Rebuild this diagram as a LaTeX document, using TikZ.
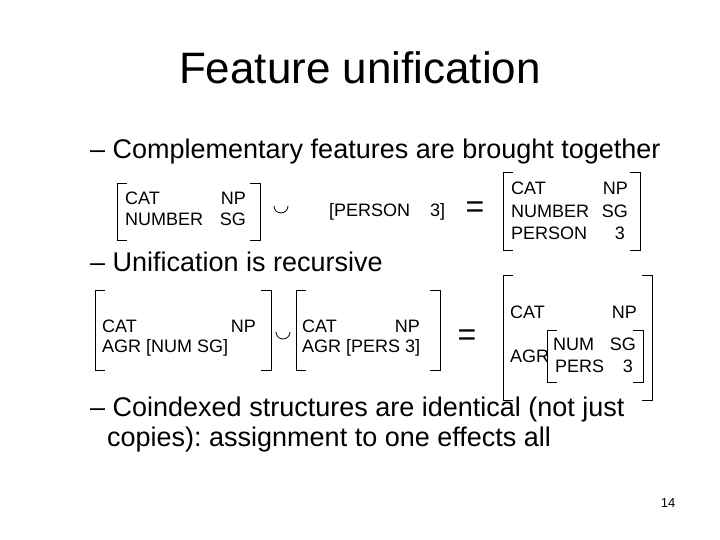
\documentclass[tikz,border=0pt]{standalone}
\usepackage{fontspec}
\setmainfont{Liberation Sans}
\begin{document}
\frenchspacing
\begin{tikzpicture}[x=1pt,y=-1pt,
  sm/.style={font=\fontsize{18}{18}\selectfont,inner sep=0pt,anchor=west},
  big/.style={font=\fontsize{27}{27}\selectfont,inner sep=0pt,anchor=west},
  brk/.style={line width=0.8pt}]
\useasboundingbox (0,0) rectangle (720,540);
\newcommand{\fsb}[4]{% left right top bottom
  \draw[brk] (#1+10,#3)--(#1,#3)--(#1,#4)--(#1+10,#4);
  \draw[brk] (#2-10,#3)--(#2,#3)--(#2,#4)--(#2-10,#4);}
\node[font=\fontsize{44}{44}\selectfont,inner sep=0pt] (title) at (360,68) {Feature unification};
\node[big] (b1) at (90,152) {– Complementary features are brought together};
% row 1
\fsb{117}{260}{183}{240}
\node[sm] (c1) at (125,198) {CAT};
\node[sm,anchor=east] (n1) at (246,198) {NP};
\node[sm] (c2) at (125,219) {NUMBER};
\node[sm,anchor=east] (n2) at (246,219) {SG};
\draw[brk] (274,206) arc (180:0:7);
\node[sm] (p1) at (329,212) {[PERSON};
\node[sm] (p2) at (430,212) {3]};
\node[font=\fontsize{32}{32}\selectfont,inner sep=0pt] (eq1) at (475,210) {=};
\fsb{503}{640}{172}{250}
\node[sm] (r1) at (511,188) {CAT};
\node[sm,anchor=east] (r1b) at (628,188) {NP};
\node[sm] (r2) at (511,211) {NUMBER};
\node[sm,anchor=east] (r2b) at (628,211) {SG};
\node[sm] (r3) at (511,233) {PERSON};
\node[sm,anchor=east] (r3b) at (625,233) {3};
\node[big] (b2) at (90,262) {– Unification is recursive};
% row 2
\fsb{95}{271}{290}{370}
\node[sm] (a1) at (102,326) {CAT};
\node[sm,anchor=east] (a1b) at (256,326) {NP};
\node[sm] (a2) at (102,348) {AGR [NUM SG]};
\draw[brk] (276,332) arc (180:0:7);
\fsb{296}{440}{290}{370}
\node[sm] (bb1) at (302,326) {CAT};
\node[sm,anchor=east] (bb1b) at (420,326) {NP};
\node[sm] (bb2) at (302,348) {AGR [PERS 3]};
\node[font=\fontsize{32}{32}\selectfont,inner sep=0pt] (eq2) at (467,338) {=};
\fsb{503}{652}{275}{400}
\node[sm] (cc1) at (510,312) {CAT};
\node[sm,anchor=east] (cc1b) at (637,312) {NP};
\node[sm] (cc2) at (510,356) {AGR};
\fsb{547}{643}{330}{382}
\node[sm] (cc3) at (553,344) {NUM};
\node[sm,anchor=east] (cc3b) at (636,344) {SG};
\node[sm] (cc4) at (555,366) {PERS};
\node[sm,anchor=east] (cc4b) at (633,366) {3};
\node[big] (b3) at (90,410) {– Coindexed structures are identical (not just};
\node[big] (b4) at (107,440) {copies): assignment to one effects all};
\node[font=\fontsize{13}{13}\selectfont,inner sep=0pt] (pg) at (668,503) {14};
\end{tikzpicture}
\end{document}
